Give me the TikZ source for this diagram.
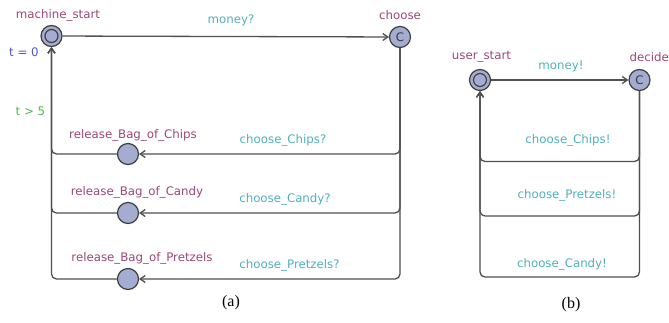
\documentclass[tikz,border=0pt]{standalone}
\usepackage{fontspec}
\setmainfont{Liberation Serif}
\newfontfamily\lblfont{DejaVu Sans}
\usetikzlibrary{arrows.meta,calc}
\definecolor{locname}{HTML}{9B4777}
\definecolor{synccol}{HTML}{4FB0BB}
\definecolor{guardcol}{HTML}{4CBB4C}
\definecolor{assigncol}{HTML}{5555C8}
\definecolor{nodefill}{HTML}{A4ACD2}
\definecolor{edgecol}{HTML}{505050}
\begin{document}
\begin{tikzpicture}[x=1pt,y=-1pt,
  loc/.style={circle,draw=edgecol!80!black,line width=1.2pt,fill=nodefill,minimum size=21pt,inner sep=0pt},
  lname/.style={font=\lblfont\fontsize{11.8}{13}\selectfont,text=locname,inner sep=0pt},
  sync/.style={font=\lblfont\fontsize{11.8}{13}\selectfont,text=synccol,inner sep=0pt},
  edge/.style={draw=edgecol,line width=1.3pt,-{Straight Barb[length=5pt,width=7pt]},rounded corners=5pt},
  captext/.style={font=\fontsize{16}{18}\selectfont,inner sep=0pt}]
\useasboundingbox (0,0) rectangle (669,322);
% ---------- (a) ----------
\node[loc] (ms) at (51.5,36) {};
\draw[edgecol!80!black,line width=1.2pt] (ms.center) circle (6.5);
\node[loc,font=\lblfont\fontsize{11.8}{13}\selectfont,text=edgecol!70!black] (ch) at (400,37) {C};
\node[loc] (r1) at (128,154) {};
\node[loc] (r2) at (128,213) {};
\node[loc] (r3) at (128,279) {};
\node[lname] (lms) at (58,15) {machine\_start};
\node[lname] (lch) at (400,15) {choose};
\node[lname] (lr1) at (133,135) {release\_Bag\_of\_Chips};
\node[lname] (lr2) at (137,192) {release\_Bag\_of\_Candy};
\node[lname] (lr3) at (142,258) {release\_Bag\_of\_Pretzels};
\draw[edge] (ms) -- (ch);
\node[sync] (money) at (231,20) {money?};
\draw[edge] (ch) |- (r1);
\draw[edge] (ch) |- (r2);
\draw[edge] (ch) |- (r3);
\node[sync] (sc1) at (283,140.5) {choose\_Chips?};
\node[sync] (sc2) at (285,199.5) {choose\_Candy?};
\node[sync] (sc3) at (289.5,265.5) {choose\_Pretzels?};
\draw[edge] (r1) -| (ms);
\draw[edge] (r2) -| (ms);
\draw[edge] (r3) -| (ms);
\node[font=\lblfont\fontsize{11.8}{13}\selectfont,text=assigncol,inner sep=0pt] (t0) at (24,52) {t = 0};
\node[font=\lblfont\fontsize{11.8}{13}\selectfont,text=guardcol,inner sep=0pt] (t5) at (30.5,111) {t > 5};
\node[captext] (capa) at (231,303) {(a)};
% ---------- (b) ----------
\node[loc] (us) at (480,80) {};
\draw[edgecol!80!black,line width=1.2pt] (us.center) circle (6.5);
\node[loc,font=\lblfont\fontsize{11.8}{13}\selectfont,text=edgecol!70!black] (de) at (639.5,80) {C};
\node[lname] (lus) at (481.5,57) {user\_start};
\node[lname,anchor=west] (lde) at (629.5,57) {decide};
\draw[edge] (us) -- (de);
\node[sync] (mon2) at (561,66) {money!};
\draw[edge] (de) -- (de |- 0,161.5) -- (us |- 0,161.5) -- (us);
\draw[edge] (de) -- (de |- 0,216) -- (us |- 0,216) -- (us);
\draw[edge] (de) -- (de |- 0,277) -- (us |- 0,277) -- (us);
\node[sync] (cc) at (568,140) {choose\_Chips!};
\node[sync] (cp) at (567,195) {choose\_Pretzels!};
\node[sync] (cd) at (562,264) {choose\_Candy!};
\node[captext] (capb) at (571,305) {(b)};
\end{tikzpicture}
\end{document}
